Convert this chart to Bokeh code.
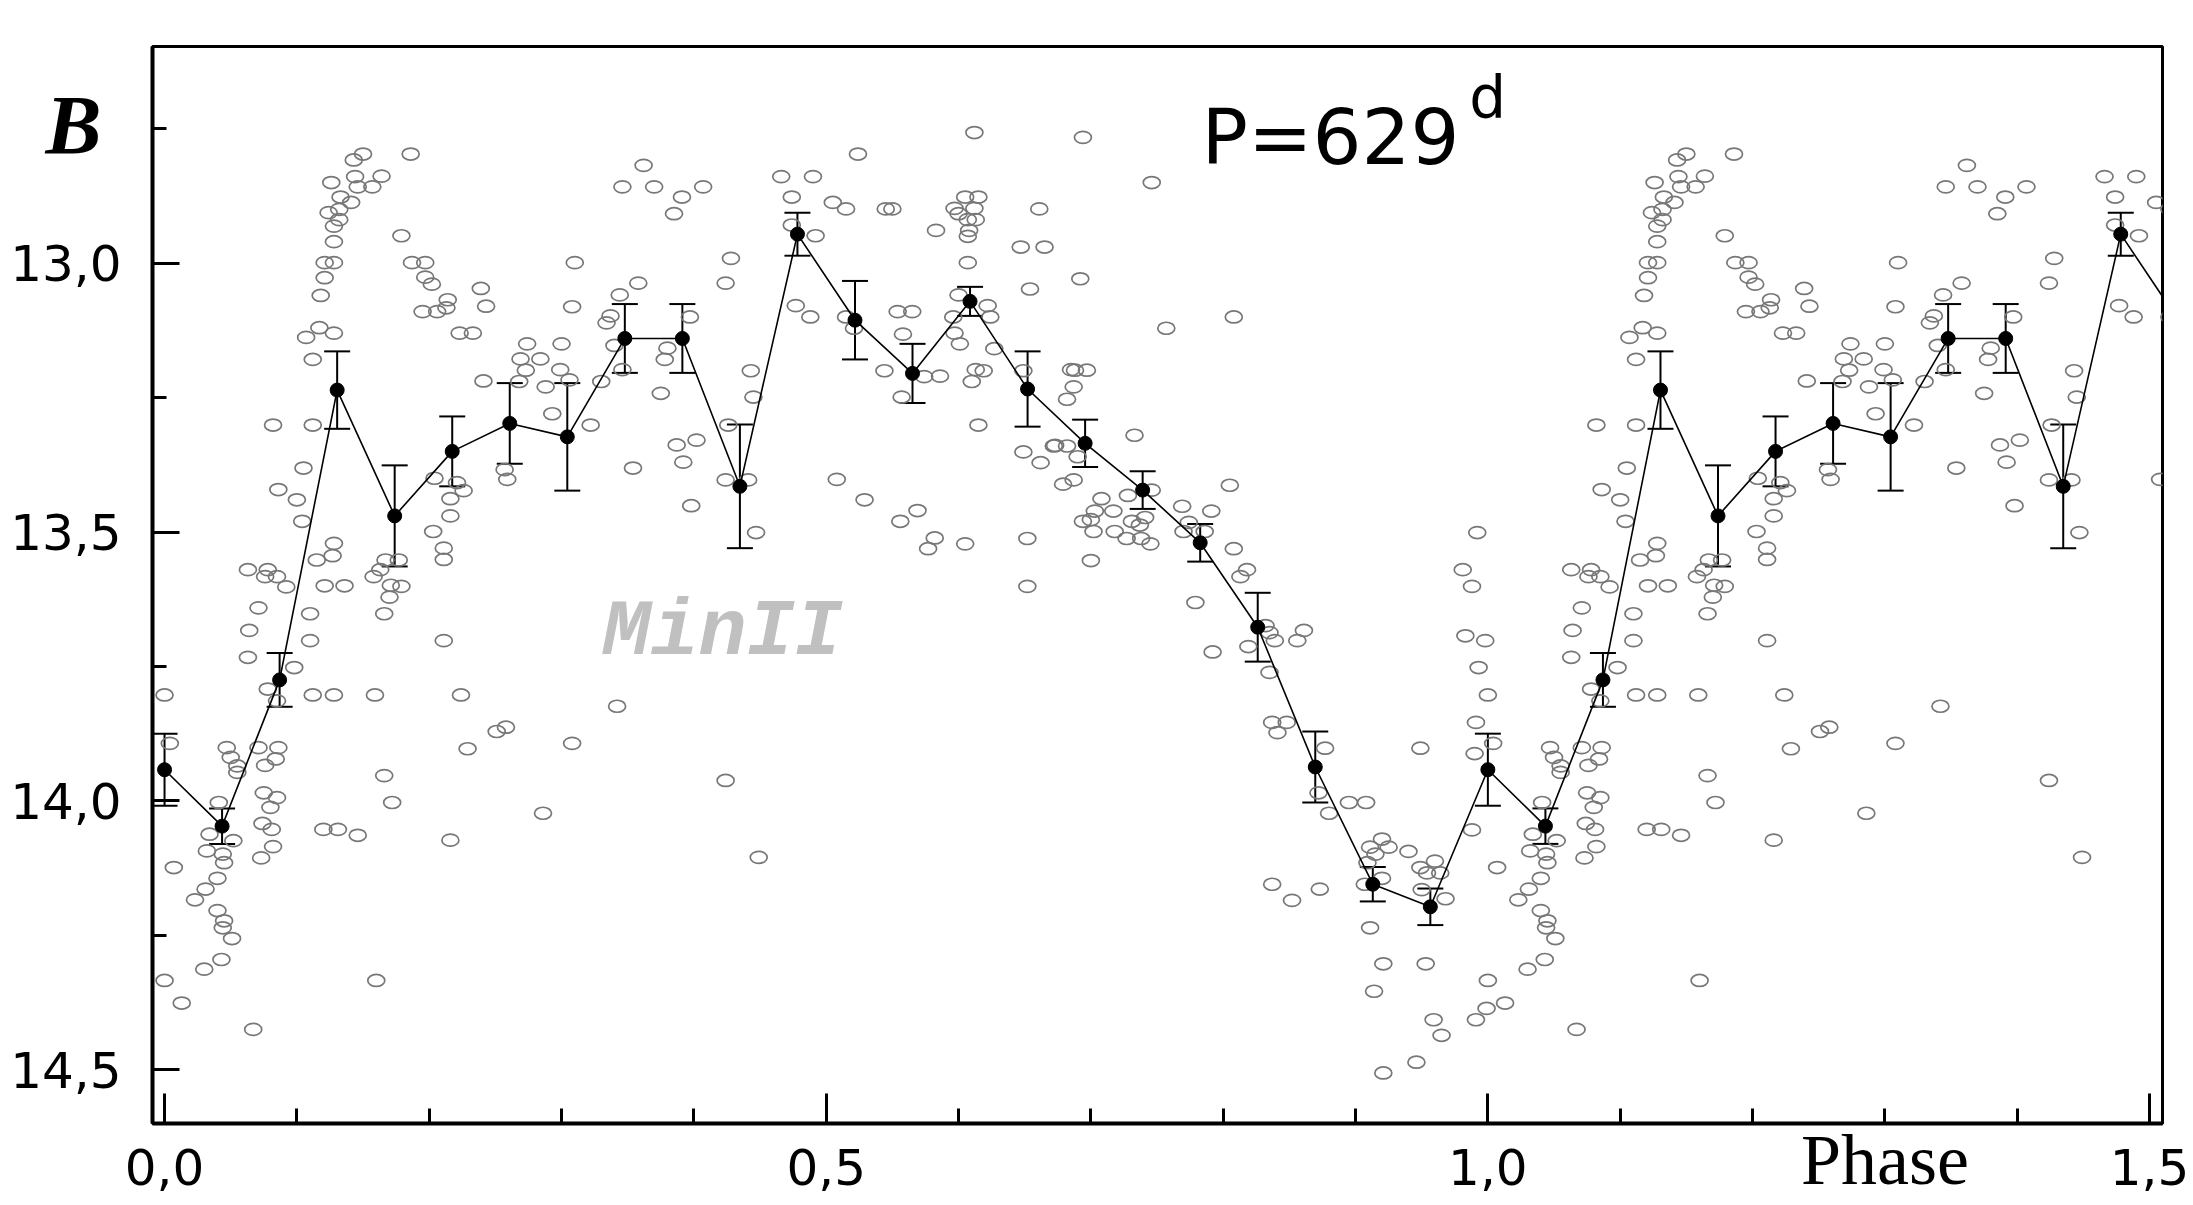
from bokeh.plotting import figure
from bokeh.models import (Range1d, FixedTicker, CustomJSTickFormatter, Label, LinearAxis,
                          Whisker, ColumnDataSource, TeeHead)
from bokeh.embed import file_html
from bokeh.resources import INLINE

# ---------------- data ----------------
# individual B observations: phase in [0,1), magnitude
phase_obs = [
    0.000, 0.004, 0.007, 0.000, 0.013, 0.023, 0.031, 0.040, 0.040, 0.045, 0.044, 0.051, 0.030, 0.043, 0.067,
    0.041, 0.034, 0.032, 0.044, 0.045, 0.052, 0.047, 0.050, 0.055, 0.055, 0.071, 0.076, 0.084, 0.086, 0.075,
    0.085, 0.080, 0.074, 0.081, 0.082, 0.073, 0.078, 0.085, 0.098, 0.110, 0.110, 0.064, 0.063, 0.071, 0.112,
    0.128, 0.159, 0.166, 0.211, 0.224, 0.229, 0.166, 0.172, 0.216, 0.251, 0.258, 0.286, 0.308, 0.342, 0.160,
    0.120, 0.131, 0.146,
    0.150, 0.143, 0.186, 0.126, 0.144, 0.164, 0.157, 0.146, 0.133, 0.141, 0.132, 0.124, 0.132, 0.128, 0.128,
    0.121, 0.128, 0.121, 0.118, 0.179, 0.187, 0.197, 0.197, 0.202, 0.214, 0.213, 0.195, 0.206, 0.239, 0.243,
    0.310, 0.308, 0.223, 0.233, 0.117, 0.128, 0.107, 0.112, 0.274, 0.269, 0.284, 0.273, 0.300, 0.299, 0.306,
    0.288, 0.241, 0.268, 0.293, 0.322, 0.082, 0.112, 0.105, 0.086, 0.100, 0.104, 0.128, 0.127, 0.115, 0.063,
    0.078, 0.076, 0.085, 0.092, 0.121, 0.136, 0.167, 0.177, 0.163, 0.158, 0.171, 0.179, 0.170, 0.204, 0.221,
    0.226, 0.216, 0.216, 0.203, 0.211, 0.211, 0.259, 0.257,
    0.362, 0.346, 0.370, 0.407, 0.391, 0.385, 0.428, 0.424, 0.358, 0.344, 0.337, 0.334, 0.397, 0.340, 0.380,
    0.378, 0.346, 0.330, 0.375, 0.443, 0.445, 0.426, 0.387, 0.402, 0.392, 0.354, 0.424, 0.441, 0.398, 0.447,
    0.466, 0.490, 0.474, 0.524, 0.474, 0.492, 0.505, 0.515, 0.477, 0.488, 0.515, 0.521, 0.545, 0.550, 0.554,
    0.565, 0.558, 0.544, 0.574, 0.586, 0.557, 0.508, 0.529, 0.556, 0.569, 0.582, 0.577, 0.605, 0.612, 0.605,
    0.615, 0.597, 0.612, 0.600, 0.607, 0.613, 0.608, 0.607, 0.583, 0.607, 0.661, 0.647, 0.665, 0.654, 0.600,
    0.622, 0.596, 0.624, 0.597, 0.601, 0.627, 0.613, 0.619, 0.610, 0.615, 0.649, 0.649, 0.662, 0.672, 0.682,
    0.679, 0.682, 0.652, 0.652, 0.685,
    0.694, 0.746, 0.692, 0.757, 0.808, 0.688, 0.697, 0.687, 0.733, 0.673, 0.690, 0.687, 0.708, 0.703, 0.700,
    0.694, 0.702, 0.717, 0.728, 0.718, 0.727, 0.731, 0.737, 0.741, 0.738, 0.745, 0.746, 0.700, 0.769, 0.770,
    0.774, 0.786, 0.791, 0.805, 0.808, 0.813, 0.818, 0.779, 0.992, 0.981, 0.988,
    0.424, 0.449,
    0.832, 0.835, 0.839, 0.861, 0.856, 0.819, 0.792, 0.835, 0.837, 0.848, 0.841, 0.877, 0.872, 0.880, 0.895,
    0.908, 0.837, 0.852, 0.873, 0.911, 0.920, 0.925, 0.915, 0.909, 0.920, 0.907, 0.940, 0.949, 0.960, 0.954,
    0.964, 0.968, 0.949, 0.983, 0.998, 0.993, 0.991, 0.990, 0.988, 0.911, 0.921, 0.953, 0.914, 0.959, 0.965,
    0.921, 0.946, 0.991, 0.999, 0.950,
]
mag_obs = [
    13.803, 13.893, 14.124, 14.334, 14.376, 14.184, 14.164, 14.144, 14.204, 14.223, 14.236, 14.256, 14.313, 14.295, 14.425,
    14.003, 14.062, 14.093, 14.099, 14.115, 14.074, 13.901, 13.919, 13.935, 13.947, 13.901, 13.934, 13.922, 13.901, 13.985,
    13.994, 14.012, 14.042, 14.053, 14.085, 14.106, 13.792, 13.814, 13.752, 13.652, 13.702, 13.683, 13.733, 13.641, 13.803,
    13.803, 13.803, 13.652, 13.702, 13.803, 13.903, 13.953, 14.003, 14.073, 13.871, 13.863, 14.023, 13.893, 13.824, 14.334,
    14.053, 14.053, 14.064,
    12.797, 12.808, 12.797, 12.850, 12.839, 12.838, 12.858, 12.858, 12.877, 12.887, 12.900, 12.906, 12.919, 12.931, 12.960,
    12.999, 12.999, 13.027, 13.060, 12.949, 12.999, 12.999, 13.026, 13.039, 13.068, 13.083, 13.090, 13.090, 13.047, 13.080,
    12.999, 13.081, 13.130, 13.130, 13.120, 13.130, 13.138, 13.179, 13.150, 13.178, 13.178, 13.199, 13.150, 13.198, 13.217,
    13.230, 13.219, 13.220, 13.280, 13.301, 13.301, 13.301, 13.381, 13.421, 13.440, 13.480, 13.521, 13.544, 13.552, 13.570,
    13.570, 13.583, 13.583, 13.602, 13.600, 13.600, 13.552, 13.552, 13.570, 13.583, 13.599, 13.601, 13.621, 13.400, 13.408,
    13.423, 13.438, 13.470, 13.499, 13.530, 13.551, 13.402, 13.384,
    12.818, 12.858, 12.858, 12.858, 12.877, 12.908, 12.991, 13.037, 13.037, 13.059, 13.098, 13.111, 13.100, 13.153, 13.158,
    13.179, 13.198, 13.220, 13.242, 13.200, 13.249, 13.301, 13.338, 13.329, 13.370, 13.381, 13.403, 13.403, 13.451, 13.501,
    12.839, 12.839, 12.877, 12.797, 12.929, 12.949, 12.887, 12.899, 13.079, 13.100, 13.100, 13.121, 12.899, 12.899, 13.090,
    13.090, 13.132, 13.200, 13.211, 13.210, 13.249, 13.402, 13.440, 13.480, 13.460, 13.511, 13.531, 13.522, 12.757, 12.877,
    12.877, 12.898, 12.898, 12.908, 12.919, 12.919, 12.939, 12.950, 12.939, 12.999, 12.899, 12.970, 12.970, 13.048, 13.059,
    13.079, 13.100, 13.100, 13.130, 13.150, 13.159, 13.198, 13.200, 13.220, 13.301, 13.200, 13.351, 13.371, 13.340, 13.340,
    13.411, 13.253, 13.512, 13.601, 13.198,
    12.766, 12.850, 13.029, 13.121, 13.100, 13.199, 13.199, 13.230, 13.320, 13.339, 13.360, 13.403, 13.438, 13.461, 13.477,
    13.480, 13.499, 13.461, 13.432, 13.499, 13.512, 13.480, 13.487, 13.473, 13.512, 13.522, 13.422, 13.553, 13.452, 13.499,
    13.482, 13.499, 13.461, 13.413, 13.531, 13.583, 13.570, 13.631, 13.501, 13.570, 13.601,
    13.962, 14.105,
    13.674, 13.687, 13.702, 13.683, 13.702, 13.713, 13.723, 13.761, 13.854, 13.854, 13.873, 13.902, 13.985, 14.023, 14.003,
    14.003, 14.155, 14.185, 14.164, 14.086, 14.071, 14.086, 14.099, 14.115, 14.144, 14.155, 14.094, 14.124, 14.112, 14.134,
    14.134, 14.182, 13.902, 13.693, 13.702, 13.752, 13.854, 13.912, 14.054, 14.236, 14.303, 14.303, 14.354, 14.407, 14.436,
    14.506, 14.486, 14.407, 14.386, 14.165,
]

# mean light curve in 23 phase bins (bin k at phase k/23) and its errors
n_bins = 23
mean_mag = [13.942, 14.047, 13.775, 13.236, 13.470, 13.350, 13.298, 13.323, 13.140, 13.140, 13.415, 12.946,
            13.106, 13.205, 13.071, 13.234, 13.335, 13.422, 13.520, 13.677, 13.937, 14.155, 14.197]
mean_err = [0.067, 0.033, 0.050, 0.072, 0.094, 0.065, 0.075, 0.100, 0.064, 0.064, 0.115, 0.040,
            0.073, 0.055, 0.027, 0.070, 0.044, 0.035, 0.035, 0.064, 0.066, 0.032, 0.034]

x_major = [0.0, 0.5, 1.0, 1.5]
x_minor = [0.1, 0.2, 0.3, 0.4, 0.6, 0.7, 0.8, 0.9, 1.1, 1.2, 1.3, 1.4]
y_major = [13.0, 13.5, 14.0, 14.5]
y_minor = [12.75, 13.25, 13.75, 14.25]
y_title_at = [12.744]     # row of the "B" band label
x_title_at = [1.3]        # position of the "Phase" axis title

# ---------------- derived (phase-folded twice, 0 .. 1.5) ----------------
obs_x = list(phase_obs) + [ph + 1.0 for ph in phase_obs]
obs_y = list(mag_obs) + list(mag_obs)

bin_phase = [k / n_bins for k in range(n_bins)]
mx, my, me = [], [], []
for ph, m, e in zip(bin_phase, mean_mag, mean_err):
    mx.append(ph); my.append(m); me.append(e)
for ph, m, e in zip(bin_phase, mean_mag, mean_err):
    if ph + 1.0 <= 1.53:
        mx.append(ph + 1.0); my.append(m); me.append(e)

x_lo, x_hi = -0.0091, 1.5098
y_bottom, y_top = 14.600, 12.597

p = figure(width=2190, height=1203, output_backend="svg", toolbar_location=None,
           x_range=Range1d(x_lo, x_hi), y_range=Range1d(y_bottom, y_top),
           min_border_left=150, min_border_right=28, min_border_top=46, min_border_bottom=80)
p.xgrid.visible = False
p.ygrid.visible = False
p.outline_line_color = "black"
p.outline_line_width = 3
p.background_fill_color = "white"
p.border_fill_color = "white"

fmt = CustomJSTickFormatter(code="return tick.toFixed(1).replace('.', ',');")

xa = p.xaxis[0]
xa.ticker = FixedTicker(ticks=x_major, minor_ticks=x_minor)
xa.formatter = fmt
ya = p.yaxis[0]
ya.ticker = FixedTicker(ticks=y_major, minor_ticks=y_minor)
ya.formatter = fmt
for ax, tin, tmin, sto in ((xa, 30, 15, 25), (ya, 27, 14, 31)):
    ax.major_label_text_font = "DejaVu Sans"
    ax.major_label_text_font_size = "50px"
    ax.major_label_text_color = "black"
    ax.major_label_standoff = sto
    ax.axis_line_width = 4
    ax.axis_line_color = "black"
    ax.major_tick_in = tin
    ax.major_tick_out = 0
    ax.minor_tick_in = tmin
    ax.minor_tick_out = 0
    ax.major_tick_line_width = 3
    ax.minor_tick_line_width = 3
    ax.major_tick_line_color = "black"
    ax.minor_tick_line_color = "black"


def title_axis(ticks, text, standoff, font, style, size):
    return LinearAxis(ticker=FixedTicker(ticks=ticks),
                      formatter=CustomJSTickFormatter(code="return %r;" % text),
                      axis_line_color=None, major_tick_line_color=None,
                      minor_tick_line_color=None, major_tick_in=0, major_tick_out=0,
                      minor_tick_in=0, minor_tick_out=0, major_label_standoff=standoff,
                      major_label_text_font=font, major_label_text_font_style=style,
                      major_label_text_font_size=size, major_label_text_color="black")

# band label "B" (left of the frame, at the top) and axis title "Phase"
p.add_layout(title_axis(y_title_at, "\u00a0\u00a0B", -94, "Liberation Serif", "bold italic", "84px"), "left")
p.add_layout(title_axis(x_title_at, "Phase", -68, "Liberation Serif", "normal", "72px"), "below")

# individual observations
obs_src = ColumnDataSource(dict(x=obs_x, y=obs_y))
p.ellipse(x="x", y="y", width=17, height=12, width_units="screen", height_units="screen",
          fill_color=None, line_color="#777777", line_width=1.7, source=obs_src)

# mean curve with error bars
mean_src = ColumnDataSource(dict(x=mx, y=my))
p.line(x="x", y="y", line_color="black", line_width=1.6, source=mean_src)

wx = [x for x in mx if x <= 1.505]
n_w = len(wx)
wsrc = ColumnDataSource(dict(x=wx,
                             upper=[a - b for a, b in zip(my[:n_w], me[:n_w])],
                             lower=[a + b for a, b in zip(my[:n_w], me[:n_w])]))
p.add_layout(Whisker(base="x", upper="upper", lower="lower", source=wsrc, dimension="height",
                     line_color="black", line_width=2,
                     upper_head=TeeHead(size=26, line_width=2, line_color="black"),
                     lower_head=TeeHead(size=26, line_width=2, line_color="black")))
p.scatter(x="x", y="y", size=14, marker="circle", fill_color="black", line_color="black",
          source=mean_src)

# texts inside the frame
def add_text(**kw):
    p.add_layout(Label(text_baseline="alphabetic", text_align="left", **kw))

add_text(x=0.7836, y=12.766, text="P=629", text_font="DejaVu Sans",
         text_font_size="77px", text_color="black")
add_text(x=0.9859, y=12.693, text="d", text_font="DejaVu Sans",
         text_font_size="58px", text_color="black")
add_text(x=0.331, y=13.686, text="MinII", text_font="Liberation Mono",
         text_font_style="bold italic", text_font_size="80px", text_color="#c0c0c0")

open("out.html", "w").write(file_html(p, INLINE))
